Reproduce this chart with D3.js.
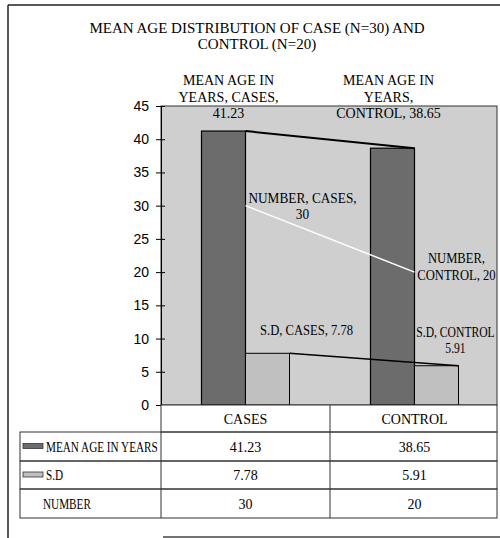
<!DOCTYPE html>
<html>
<head>
<meta charset="utf-8">
<script src="https://cdn.jsdelivr.net/npm/d3@7"></script>
<style>
body { margin: 0; background: #fff; }
text { font-family: "Liberation Serif", "Times New Roman", serif; fill: #000; }
.axis .tick text { font-family: "Liberation Sans", Arial, sans-serif; }
</style>
</head>
<body>
<div id="chart"></div>
<script>
var categories = ["CASES", "CONTROL"];
var meanAge = [41.23, 38.65];
var sd = [7.78, 5.91];
var number = [30, 20];
var yTicks = [0, 5, 10, 15, 20, 25, 30, 35, 40, 45];

var width = 500;
var height = 538;

var plotLeft = 161, plotRight = 497, plotTop = 106, plotBottom = 405;

var svg = d3.select("#chart").append("svg")
	.attr("width", width)
	.attr("height", height);

svg.append("rect").attr("width", width).attr("height", height).attr("fill", "#fff");

// outer frame (scanned page)
svg.append("line").attr("x1", 8).attr("y1", 5).attr("x2", 500).attr("y2", 5).attr("stroke", "#222").attr("stroke-width", 1.5);
svg.append("line").attr("x1", 8).attr("y1", 5).attr("x2", 8).attr("y2", 538).attr("stroke", "#222").attr("stroke-width", 1.5);
svg.append("line").attr("x1", 163).attr("y1", 537).attr("x2", 500).attr("y2", 537).attr("stroke", "#444").attr("stroke-width", 1.5);

// title
svg.append("text").attr("x", 257).attr("y", 33).attr("text-anchor", "middle")
	.style("font-size", "15px").text("MEAN AGE DISTRIBUTION OF CASE (N=30) AND");
svg.append("text").attr("x", 257).attr("y", 49).attr("text-anchor", "middle")
	.style("font-size", "15px").text("CONTROL (N=20)");

var y = d3.scaleLinear().domain([0, 45]).range([plotBottom, plotTop]);
var x0 = d3.scaleBand().domain(categories).range([plotLeft, 499]);
var x1 = d3.scaleBand().domain(["mean", "sd"]).range([0, x0.bandwidth()]).paddingOuter(0.92);
var bw = x1.bandwidth();

// plot area
svg.append("rect").attr("x", plotLeft).attr("y", plotTop).attr("width", plotRight - plotLeft).attr("height", plotBottom - plotTop)
	.attr("fill", "#cfcfcf").attr("stroke", "#333").attr("stroke-width", 1);

var g = svg.append("g");

// bars
g.selectAll(".mean").data(categories).enter().append("rect")
	.attr("x", function(d) { return x0(d) + x1("mean"); })
	.attr("y", function(d, i) { return y(meanAge[i]); })
	.attr("width", bw)
	.attr("height", function(d, i) { return y(0) - y(meanAge[i]); })
	.attr("fill", "#6c6c6c").attr("stroke", "#000").attr("stroke-width", 1.2);

g.selectAll(".sd").data(categories).enter().append("rect")
	.attr("x", function(d) { return x0(d) + x1("sd"); })
	.attr("y", function(d, i) { return y(sd[i]); })
	.attr("width", bw)
	.attr("height", function(d, i) { return y(0) - y(sd[i]); })
	.attr("fill", "#c0c0c0").attr("stroke", "#000").attr("stroke-width", 1);

// series lines joining bar tops
var meanLine = d3.line()
	.x(function(d, i) { return x0(categories[i]) + x1("mean") + bw; })
	.y(function(d) { return y(d); });
g.append("path").attr("d", meanLine(meanAge)).attr("fill", "none").attr("stroke", "#000").attr("stroke-width", 2);

var sdLine = d3.line()
	.x(function(d, i) { return x0(categories[i]) + x1("sd") + bw; })
	.y(function(d) { return y(d); });
g.append("path").attr("d", sdLine(sd)).attr("fill", "none").attr("stroke", "#000").attr("stroke-width", 1.5);

// NUMBER as white line
var numLine = d3.line()
	.x(function(d, i) { return x0(categories[i]) + x0.bandwidth() / 2; })
	.y(function(d) { return y(d); });
g.append("path").attr("d", numLine(number)).attr("fill", "none").attr("stroke", "#fff").attr("stroke-width", 1.5);

// y axis
var yAxis = d3.axisLeft(y).tickValues(yTicks).tickSize(0).tickPadding(10);
var ax = svg.append("g").attr("class", "axis y").attr("transform", "translate(" + plotLeft + ",0)").call(yAxis);
ax.select(".domain").attr("stroke", "#000");
ax.selectAll(".tick text").style("font-size", "14px").attr("x", -12);
ax.selectAll(".tick").append("line").attr("x1", -5).attr("x2", 4).attr("stroke", "#000");

// data labels (sx squeezes the text a bit, as in the scan)
function label(lines, cx, baseline, sx) {
	var t = svg.append("text").attr("text-anchor", "middle").style("font-size", "14px")
		.attr("transform", "translate(" + cx + ",0) scale(" + (sx || 1) + ",1)");
	lines.forEach(function(s, i) {
		t.append("tspan").attr("x", 0).attr("y", baseline + i * 16.5).text(s);
	});
}
var cxMean = function(i) { return x0(categories[i]) + x1("mean") + bw / 2; };
var cxCat = function(i) { return x0(categories[i]) + x0.bandwidth() / 2; };
label(["MEAN AGE IN", "YEARS, CASES,", meanAge[0].toFixed(2)], cxMean(0) + 5, y(meanAge[0]) - 46);
label(["MEAN AGE IN", "YEARS,", "CONTROL, " + meanAge[1].toFixed(2)], cxMean(1) - 4, y(meanAge[0]) - 46);
label(["NUMBER, CASES,", String(number[0])], cxCat(0) + 57, y(number[0]) - 3, 0.95);
label(["NUMBER,", "CONTROL, " + number[1]], cxCat(1) + 42, y(number[1]) - 9, 0.9);
label(["S.D, CASES, " + sd[0].toFixed(2)], cxCat(0) + 61, y(sd[0]) - 18, 0.9);
label(["S.D, CONTROL", sd[1].toFixed(2)], cxCat(1) + 41, y(sd[1]) - 29, 0.83);

// data table
var rowH = [27, 29, 28, 29];
var tableLeft = 20;
var rows = [
	{ name: "MEAN AGE IN YEARS", vals: meanAge.map(function(v) { return v.toFixed(2); }), key: "#6c6c6c" },
	{ name: "S.D", vals: sd.map(function(v) { return v.toFixed(2); }), key: "#c0c0c0" },
	{ name: "NUMBER", vals: number.map(String), key: null }
];
var tg = svg.append("g");
var yy = plotBottom;
// header
tg.append("rect").attr("x", plotLeft).attr("y", yy).attr("width", plotRight - plotLeft).attr("height", rowH[0])
	.attr("fill", "#fff").attr("stroke", "#333");
tg.append("line").attr("x1", plotLeft + x0.bandwidth()).attr("x2", plotLeft + x0.bandwidth())
	.attr("y1", yy).attr("y2", plotBottom + d3.sum(rowH)).attr("stroke", "#333");
categories.forEach(function(c) {
	tg.append("text").attr("x", x0(c) + x0.bandwidth() / 2).attr("y", yy + 19).attr("text-anchor", "middle")
		.style("font-size", "14px").text(c);
});
yy += rowH[0];
rows.forEach(function(r, i) {
	var h = rowH[i + 1];
	tg.append("rect").attr("x", tableLeft).attr("y", yy).attr("width", plotRight - tableLeft).attr("height", h)
		.attr("fill", "none").attr("stroke", "#333");
	tg.append("line").attr("x1", plotLeft).attr("x2", plotLeft).attr("y1", yy).attr("y2", yy + h).attr("stroke", "#333");
	if (r.key) {
		tg.append("rect").attr("x", 23).attr("y", yy + h / 2 - 3).attr("width", 20).attr("height", 5)
			.attr("fill", r.key).attr("stroke", "#333").attr("stroke-width", 0.8);
	}
	// narrow the row labels a little, the scan shows a condensed face
	var tx = r.key ? 46 : 43;
	tg.append("text").attr("transform", "translate(" + tx + "," + (yy + h / 2 + 5) + ") scale(0.8,1)")
		.style("font-size", "14px").text(r.name);
	categories.forEach(function(c, j) {
		tg.append("text").attr("x", x0(c) + x0.bandwidth() / 2).attr("y", yy + h / 2 + 5).attr("text-anchor", "middle")
			.style("font-size", "14px").text(r.vals[j]);
	});
	yy += h;
});
</script>
</body>
</html>
